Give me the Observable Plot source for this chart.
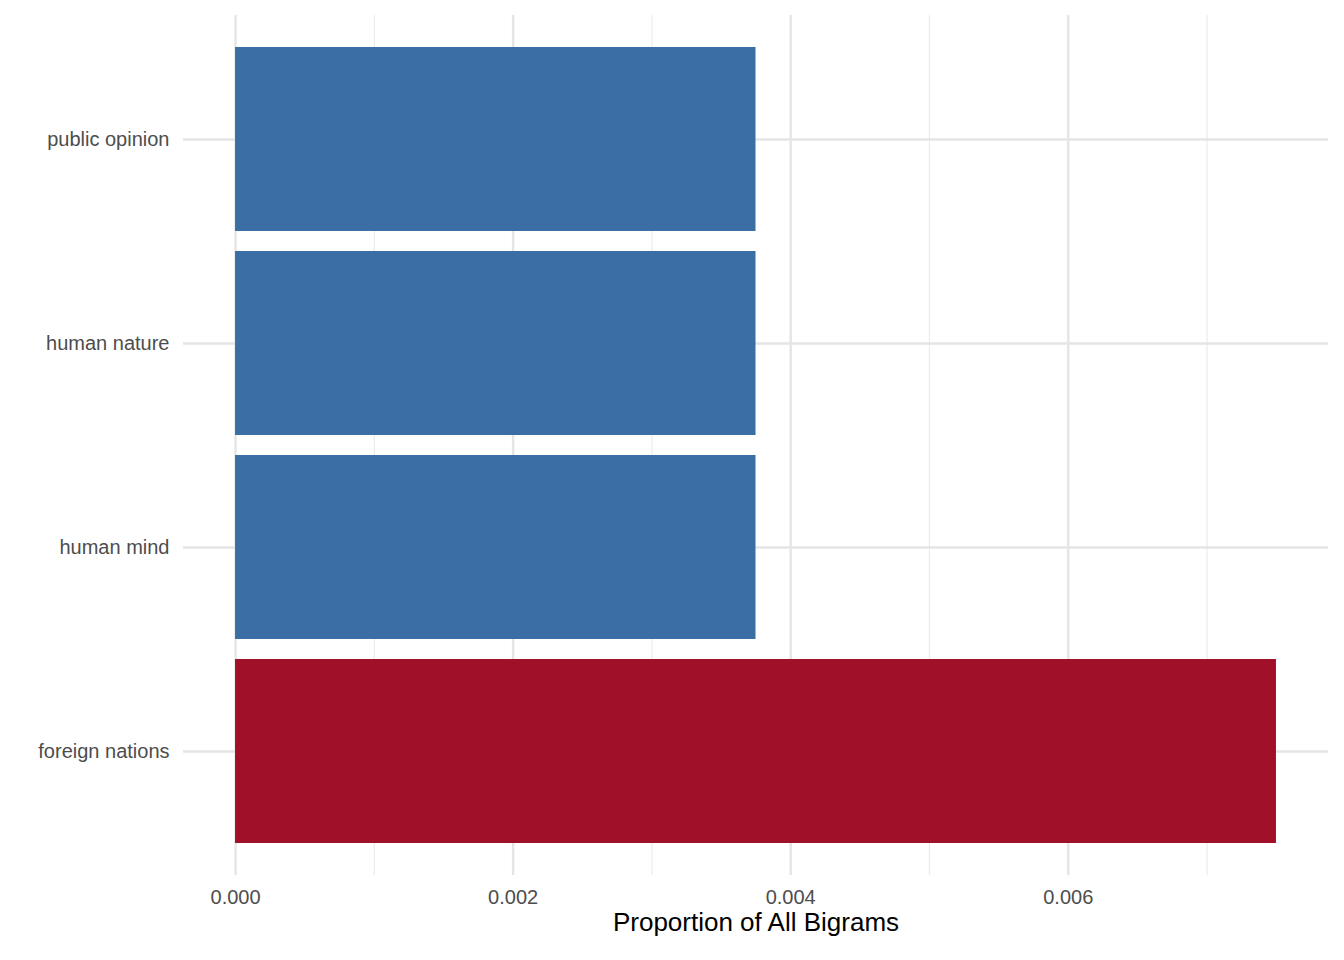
<!DOCTYPE html>
<html><head><meta charset="utf-8">
<script src="https://cdn.jsdelivr.net/npm/d3@7"></script>
<script src="https://cdn.jsdelivr.net/npm/@observablehq/plot@0.6"></script>
<style>body{margin:0;background:#fff}</style>
</head><body><div id="chart"></div>
<script>
const bigrams = ["public opinion", "human nature", "human mind", "foreign nations"];
const proportions = [0.00375, 0.00375, 0.00375, 0.0075];
const highlight = [false, false, false, true];
const majorTicks = [0, 0.002, 0.004, 0.006];
const minorTicks = [0.001, 0.003, 0.005, 0.007];

const data = bigrams.map((b, i) => ({bigram: b, value: proportions[i], hi: highlight[i]}));
const xmax = d3.max(proportions);

const chart = Plot.plot({
  width: 1344,
  height: 960,
  marginLeft: 183,
  marginRight: 16,
  marginTop: 15,
  marginBottom: 85,
  style: {fontFamily: "Liberation Sans, Arial, sans-serif", background: "#fff"},
  x: {domain: [-0.05 * xmax, 1.05 * xmax], label: null},
  y: {domain: bigrams, paddingInner: 0.1, paddingOuter: 0.148, label: null},
  marks: [
    Plot.ruleX(minorTicks, {stroke: "#ebebeb", strokeWidth: 1.2}),
    Plot.ruleX(majorTicks, {stroke: "#e5e5e5", strokeWidth: 2.4}),
    Plot.gridY({stroke: "#e5e5e5", strokeWidth: 2.4, strokeOpacity: 1}),
    Plot.barX(data, {x: "value", y: "bigram", fill: d => d.hi ? "#A01028" : "#3A6EA5"}),
    Plot.axisY({tickSize: 0, tickPadding: 14, fontSize: 20, color: "#4d4d4d", label: null}),
    Plot.axisX({ticks: majorTicks, tickSize: 0, tickPadding: 14, fontSize: 20, color: "#4d4d4d",
      tickFormat: d3.format(".3f"), label: null}),
    Plot.text(["Proportion of All Bigrams"], {frameAnchor: "bottom", dy: 55, fontSize: 26, fill: "#000"})
  ]
});
document.getElementById("chart").append(chart);
</script>
</body></html>
